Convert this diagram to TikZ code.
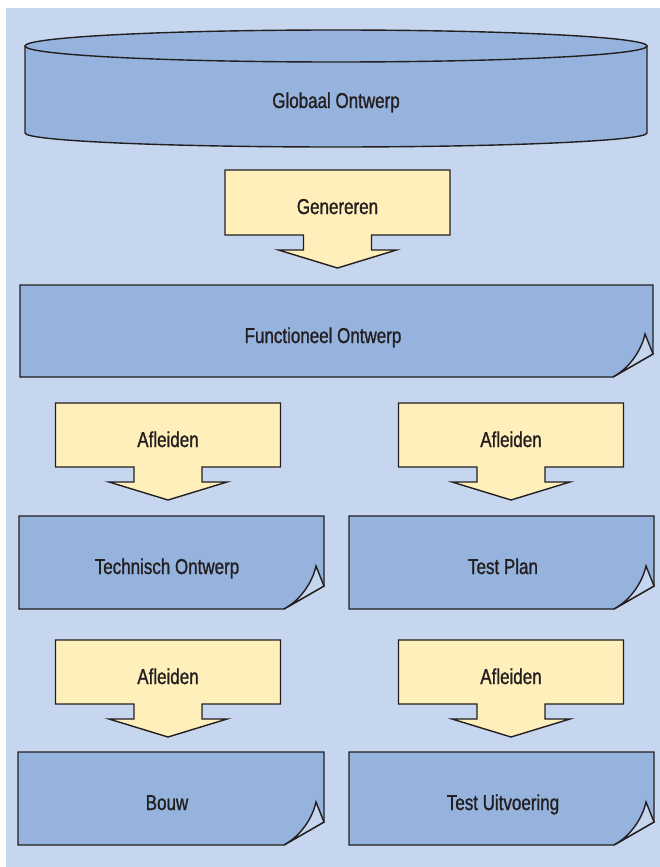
\documentclass[tikz,border=0pt]{standalone}
\usepackage{fontspec}
\setmainfont[FakeStretch=0.79,FakeBold=1.1]{Liberation Sans}
\definecolor{pagebg}{HTML}{C7D6EF}
\definecolor{docblue}{HTML}{95B3DD}
\definecolor{note}{HTML}{FFEFBB}
\definecolor{ink}{HTML}{231F20}
% document shape with a curled lower-right corner: left, top, right, bottom
\newcommand\docshape[4]{%
  \path[outline,fill=docblue] (#1,#2) -- (#3,#2) -- (#3,{#4-23}) -- ({#3-40},#4) -- (#1,#4) -- cycle;
  \path[outline,fill=pagebg] ({#3-40},#4) .. controls ({#3-25},{#4-8}) and ({#3-12},{#4-25}) .. ({#3-8},{#4-43}) -- (#3,{#4-23}) -- cycle;
}
% box with a downward arrow below it: centre x, top, bottom of the box
\newcommand\downcallout[3]{%
  \path[outline,fill=note] ({#1-112.5},#2) -- ({#1+112.5},#2) -- ({#1+112.5},#3)
    -- ({#1+34},#3) -- ({#1+34},{#3+15}) -- ({#1+59},{#3+15}) -- (#1,{#3+33})
    -- ({#1-59},{#3+15}) -- ({#1-34},{#3+15}) -- ({#1-34},#3) -- ({#1-112.5},#3) -- cycle;
}
\begin{document}
\begin{tikzpicture}[x=1pt,y=-1pt,
  outline/.style={draw=ink,line width=1.4pt,line join=miter},
  lbl/.style={font=\fontsize{21.5}{24}\selectfont,text=ink,anchor=base,inner sep=0pt}]
\useasboundingbox (0,0) rectangle (660,867);
\fill[pagebg] (6,8) rectangle (660,867);

% cylinder
\path[outline,fill=docblue] (25,46) -- (25,133)
  arc[start angle=180,end angle=360,x radius=311pt,y radius=14pt] -- (647,46) -- cycle;
\path[outline,fill=docblue] (336,46) ellipse[x radius=311pt,y radius=16pt];
\node[lbl] (globaal) at (336,108) {Globaal Ontwerp};

% step arrows
\downcallout{337.5}{170}{235}
\node[lbl] (genereren) at (337.5,214) {Genereren};
\downcallout{168}{403}{467}
\node[lbl] (afl1) at (168,447) {Afleiden};
\downcallout{511}{403}{467}
\node[lbl] (afl2) at (511,447) {Afleiden};
\downcallout{168}{640}{704}
\node[lbl] (afl3) at (168,684) {Afleiden};
\downcallout{511}{640}{704}
\node[lbl] (afl4) at (511,684) {Afleiden};

% documents
\docshape{20}{285}{653}{377}
\node[lbl] (functioneel) at (323,343) {Functioneel Ontwerp};
\docshape{19}{516}{324}{609}
\node[lbl] (technisch) at (167,574) {Technisch Ontwerp};
\docshape{349}{516}{654}{609}
\node[lbl] (testplan) at (503,574) {Test Plan};
\docshape{18}{752}{324}{845}
\node[lbl] (bouw) at (167,810) {Bouw};
\docshape{349}{752}{654}{845}
\node[lbl] (uitvoering) at (503,810) {Test Uitvoering};
\end{tikzpicture}
\end{document}
